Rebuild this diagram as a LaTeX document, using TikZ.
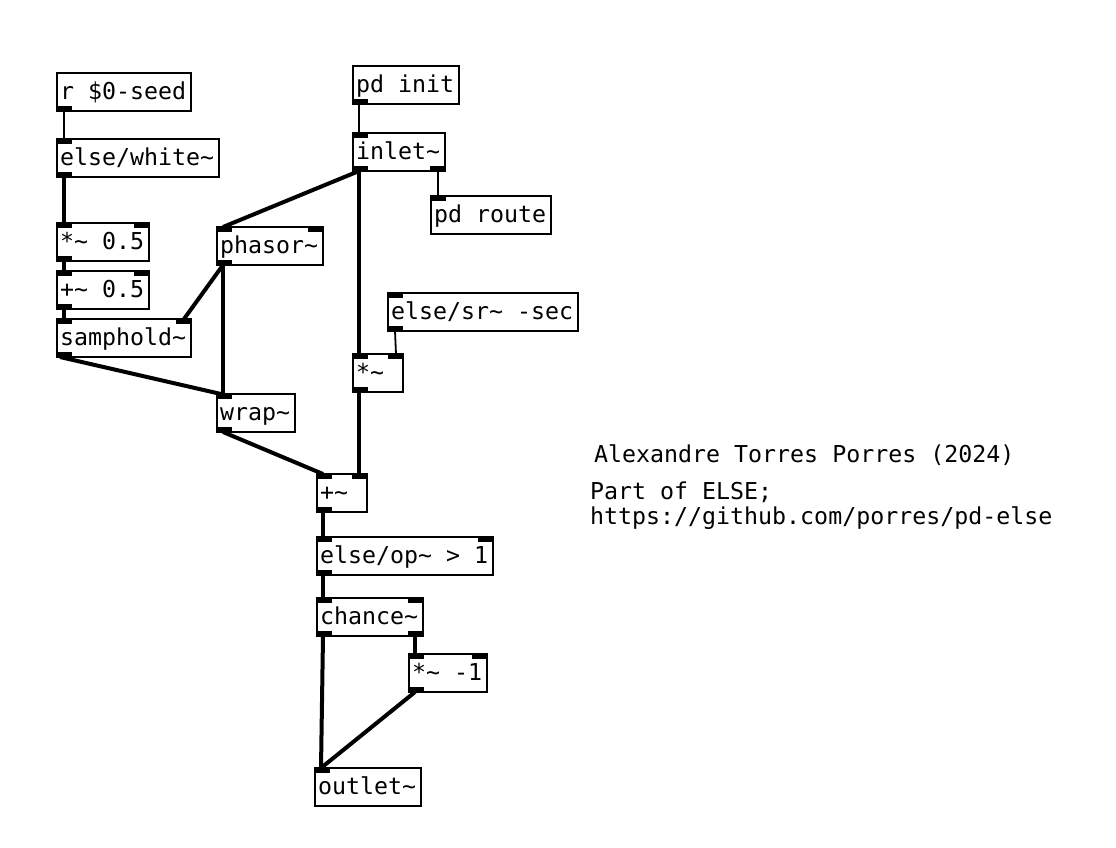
\documentclass[tikz,border=0pt]{standalone}
\usepackage{fontspec}
\newfontfamily\pdfont{DejaVu Sans Mono}
\usetikzlibrary{calc}
\newcommand\pdsize{\pdfont\fontsize{23.26pt}{26pt}\selectfont}
\newcommand\pdin[1]{\fill (#1.north west) rectangle ++(15,5);}
\newcommand\pdinR[1]{\fill (#1.north east) rectangle ++(-15,5);}
\newcommand\pdout[1]{\fill (#1.south west) rectangle ++(15,-5);}
\newcommand\pdoutR[1]{\fill (#1.south east) rectangle ++(-15,-5);}
% \pdobj{name}{x}{y}{text width}{text}
\newcommand\pdobj[5]{\node[pdbox] (#1) at (#2,#3) {\makebox[#4][l]{#5}};}
\begin{document}
\begin{tikzpicture}[x=1pt,y=-1pt,
  pdbox/.style={draw, line width=1.4pt, anchor=north west, outer sep=0pt,
    minimum height=38pt, inner xsep=3pt, inner ysep=0pt,
    font=\pdsize, text height=18.6pt, text depth=3.5pt},
  sig/.style={line width=4pt},
  ctl/.style={line width=1.8pt},
  cmt/.style={anchor=base west, inner sep=0pt, font=\pdsize}]
\fill[white] (0,0) rectangle (1116,848);
\useasboundingbox (0,0) rectangle (1116,848);

% boxes (width = 14*n + 8, text width = width - 6)
\pdobj{rseed}{57}{73}{128pt}{r \$0-seed}
\pdobj{white}{57}{139}{156pt}{else/white\char`\~}
\pdobj{mulA}{57}{223}{86pt}{*\char`\~{} 0.5}
\pdobj{addA}{57}{271}{86pt}{+\char`\~{} 0.5}
\pdobj{samp}{57}{319}{128pt}{samphold\char`\~}
\pdobj{phasor}{217}{227}{100pt}{phasor\char`\~}
\pdobj{wrap}{217}{394}{72pt}{wrap\char`\~}
\pdobj{init}{353}{66}{100pt}{pd init}
\pdobj{inlet}{353}{133}{86pt}{inlet\char`\~}
\pdobj{route}{431}{196}{114pt}{pd route}
\pdobj{sr}{388}{293}{184pt}{else/sr\char`\~{} -sec}
\pdobj{mulB}{353}{354}{44pt}{*\char`\~}
\pdobj{addB}{317}{474}{44pt}{+\char`\~}
\pdobj{op}{317}{537}{170pt}{else/op\char`\~{} > 1}
\pdobj{chance}{317}{598}{100pt}{chance\char`\~}
\pdobj{mulC}{409}{654}{72pt}{*\char`\~{} -1}
\pdobj{outlet}{315}{768}{100pt}{outlet\char`\~}

% ports
\pdout{rseed}
\pdin{white} \pdout{white}
\pdin{mulA} \pdinR{mulA} \pdout{mulA}
\pdin{addA} \pdinR{addA} \pdout{addA}
\pdin{samp} \pdinR{samp} \pdout{samp}
\pdin{phasor} \pdinR{phasor} \pdout{phasor}
\pdin{wrap} \pdout{wrap}
\pdout{init}
\pdin{inlet} \pdout{inlet} \pdoutR{inlet}
\pdin{route}
\pdin{sr} \pdout{sr}
\pdin{mulB} \pdinR{mulB} \pdout{mulB}
\pdin{addB} \pdinR{addB} \pdout{addB}
\pdin{op} \pdinR{op} \pdout{op}
\pdin{chance} \pdinR{chance} \pdout{chance} \pdoutR{chance}
\pdin{mulC} \pdinR{mulC} \pdout{mulC}
\pdin{outlet}

% connections
\draw[ctl] ($(rseed.south west)+(7,0)$) -- ($(white.north west)+(7,0)$);
\draw[sig] ($(white.south west)+(7,0)$) -- ($(mulA.north west)+(7,0)$);
\draw[sig] ($(mulA.south west)+(7,0)$) -- ($(addA.north west)+(7,0)$);
\draw[sig] ($(addA.south west)+(7,0)$) -- ($(samp.north west)+(7,0)$);
\draw[sig] ($(phasor.south west)+(6,0)$) -- ($(samp.north east)+(-7,0)$);
\draw[sig] ($(inlet.south west)+(6,0)$) -- ($(phasor.north west)+(6,0)$);
\draw[sig] ($(phasor.south west)+(6,0)$) -- ($(wrap.north west)+(6,0)$);
\draw[sig] ($(samp.south west)+(3,0)$) -- ($(wrap.north west)+(4,0)$);
\draw[sig] ($(inlet.south west)+(6,0)$) -- ($(mulB.north west)+(6,0)$);
\draw[ctl] ($(init.south west)+(6,0)$) -- ($(inlet.north west)+(6,0)$);
\draw[ctl] ($(inlet.south east)+(-7,0)$) -- ($(route.north west)+(7,0)$);
\draw[ctl] ($(sr.south west)+(7,0)$) -- ($(mulB.north east)+(-7,0)$);
\draw[sig] ($(wrap.south west)+(6,0)$) -- ($(addB.north west)+(6,0)$);
\draw[sig] ($(mulB.south west)+(6,0)$) -- ($(addB.north east)+(-8,0)$);
\draw[sig] ($(addB.south west)+(6,0)$) -- ($(op.north west)+(6,0)$);
\draw[sig] ($(op.south west)+(6,0)$) -- ($(chance.north west)+(6,0)$);
\draw[sig] ($(chance.south west)+(6,0)$) -- ($(outlet.north west)+(6,0)$);
\draw[sig] ($(chance.south east)+(-8,0)$) -- ($(mulC.north west)+(6,0)$);
\draw[sig] ($(mulC.south west)+(6,0)$) -- ($(outlet.north west)+(6,0)$);

% comments
\node[cmt] (author) at (594,462) {Alexandre Torres Porres (2024)};
\node[cmt] (part) at (590,499) {Part of ELSE;};
\node[cmt] (url) at (590,524) {https://github.com/porres/pd-else};
\end{tikzpicture}
\end{document}
